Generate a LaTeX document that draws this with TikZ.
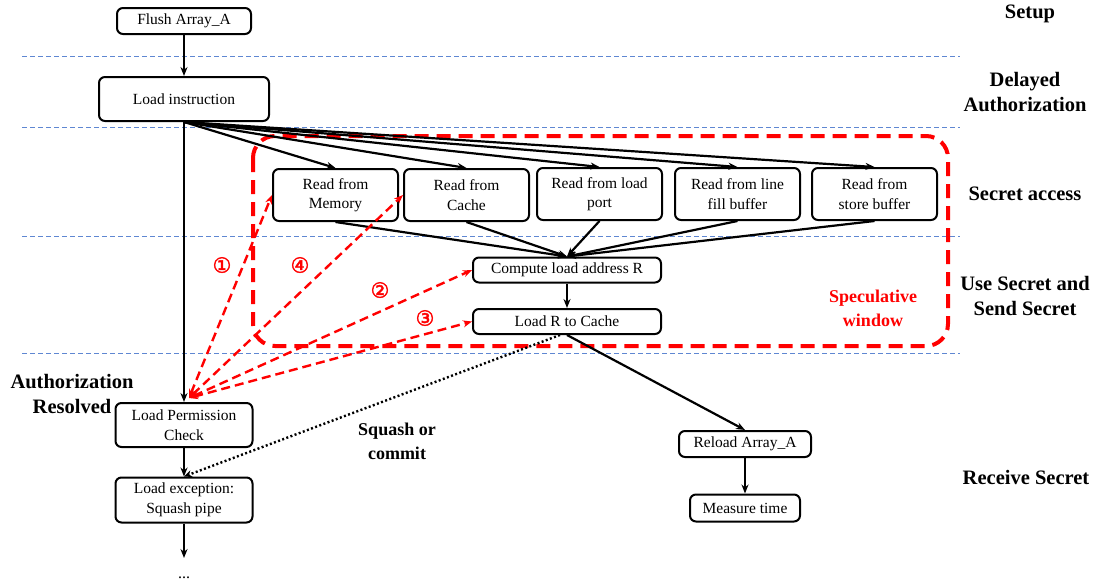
\documentclass[tikz,border=0pt]{standalone}
\usepackage{fontspec}
\setmainfont{Liberation Serif}
\newfontfamily\symfont[FakeBold=2]{DejaVu Sans}
\usetikzlibrary{arrows.meta}
\definecolor{gridBlue}{RGB}{95,135,210}
\definecolor{specRed}{RGB}{255,0,0}
\tikzset{
  stage/.style={draw=black,line width=2pt,rounded corners=6pt,fill=white,align=center,
    inner sep=0pt,font=\fontsize{15.5}{19.5}\selectfont},
  flow/.style={draw=black,line width=2.2pt,-{Stealth[length=9pt,width=7pt]}},
  leak/.style={draw=specRed,line width=2.4pt,dash pattern=on 9pt off 5pt,
    {Stealth[length=9pt,width=7pt]}-{Stealth[length=9pt,width=7pt]}},
  squash/.style={draw=black,line width=2.4pt,dash pattern=on 2pt off 2.4pt,
    -{Stealth[length=8pt,width=7pt]}},
  window/.style={draw=specRed,line width=4pt,dash pattern=on 14pt off 8pt,rounded corners=22pt},
  sep/.style={draw=gridBlue,line width=0.8pt,dash pattern=on 5pt off 3pt},
  phase/.style={font=\bfseries\fontsize{20.5}{25}\selectfont,align=center},
  note/.style={font=\bfseries\fontsize{18}{24}\selectfont,align=center},
  tag/.style={text=specRed,font=\symfont\fontsize{21}{21}\selectfont}
}
\begin{document}
\begin{tikzpicture}[x=1pt,y=-1pt]
\path[use as bounding box,fill=white] (0,0) rectangle (1098,582);

% phase separators
\foreach \yy in {56,127,236,353}
  \draw[sep] (22,\yy) -- (960,\yy);

% speculative window
\draw[window] (253,136) rectangle (948,346);
\node[note,text=specRed] (spec) at (873,308) {Speculative\\window};

% nodes
\node[stage,minimum width=134pt,minimum height=26pt] (flush) at (184,21) {Flush Array\_A};
\node[stage,minimum width=170pt,minimum height=44pt] (li) at (184,99) {Load instruction};

\node[stage,minimum width=125pt,minimum height=52pt] (rmem) at (335.5,195) {Read from\\Memory};
\node[stage,minimum width=125pt,minimum height=52pt] (rcache) at (466.5,195) {Read from\\Cache};
\node[stage,minimum width=125pt,minimum height=52pt] (rport) at (599.5,194) {Read from load\\port};
\node[stage,minimum width=125pt,minimum height=52pt] (rlfb) at (737.5,194) {Read from line\\fill buffer};
\node[stage,minimum width=125pt,minimum height=52pt] (rsb) at (874.5,194) {Read from\\store buffer};

\node[stage,minimum width=188pt,minimum height=25pt] (comp) at (567,270) {Compute load address R};
\node[stage,minimum width=188pt,minimum height=25pt] (loadr) at (567,321.5) {Load R to Cache};

\node[stage,minimum width=137pt,minimum height=44pt] (perm) at (184,425) {Load Permission\\Check};
\node[stage,minimum width=137pt,minimum height=45pt] (exc) at (184,500) {Load exception:\\Squash pipe};
\coordinate (tail) at (184,558);
\node[font=\fontsize{16}{16}\selectfont] (more) at (184,578) {...};

\node[stage,minimum width=132pt,minimum height=26pt] (reload) at (745,444) {Reload Array\_A};
\node[stage,minimum width=110pt,minimum height=27pt] (measure) at (745,508) {Measure time};

% phase labels
\node[phase] (setup) at (1030,14) {Setup};
\node[phase] (delay) at (1025,92) {Delayed\\Authorization};
\node[phase] (access) at (1025,194) {Secret access};
\node[phase] (use) at (1025,296) {Use Secret and\\Send Secret};
\node[phase] (recv) at (1026,477) {Receive Secret};
\node[phase] (authres) at (72,394) {Authorization\\Resolved};
\node[note] (sqc) at (397,441) {Squash or\\commit};

% connectors
\draw[flow] (flush) -- (li);
\foreach \r in {rmem,rcache,rport,rlfb,rsb}{
  \draw[flow] (li.south) -- (\r.north);
  \draw[flow] (\r.south) -- (comp.north);
}
\draw[flow] (comp) -- (loadr);
\draw[flow] (li.south) -- (perm.north);
\draw[flow] (perm) -- (exc);
\draw[flow] (exc.south) -- (tail);
\draw[flow] (loadr.south) -- (reload.north);
\draw[flow] (reload) -- (measure);
\draw[squash] ([xshift=-7pt]loadr.south) -- (exc.north);

% authorization race
\coordinate (hub) at (189,398);
\draw[leak] (hub) -- (rmem.west);
\draw[leak] (hub) -- (rcache.west);
\draw[leak] (hub) -- (comp.west);
\draw[leak] (hub) -- (loadr.west);
\node[tag] (n1) at (222,265) {①};
\node[tag] (n4) at (300,265) {④};
\node[tag] (n2) at (380,290) {②};
\node[tag] (n3) at (425,318) {③};
\end{tikzpicture}
\end{document}
